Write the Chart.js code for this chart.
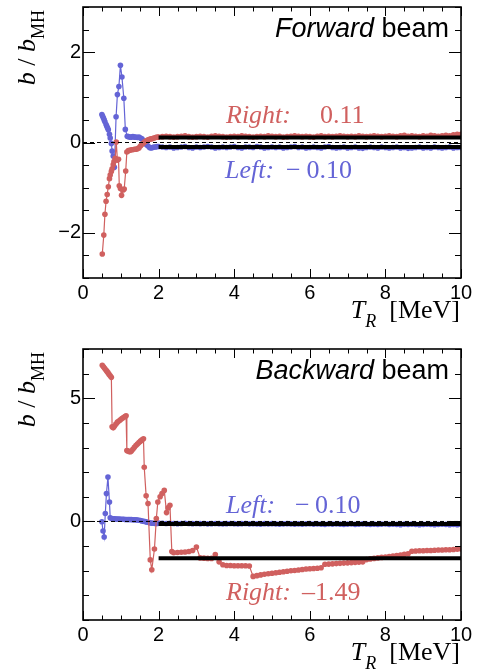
<!DOCTYPE html>
<html>
<head>
<meta charset="utf-8">
<script src="https://cdn.jsdelivr.net/npm/chart.js@4.4.0/dist/chart.umd.min.js"></script>
<style>
  html, body { margin: 0; padding: 0; background: #fff; }
  #wrap { position: relative; width: 478px; height: 671px; }
  canvas { position: absolute; left: 0; }
  #fwd { top: 0; }
  #bwd { top: 335px; }
</style>
</head>
<body>
<div id="wrap">
  <canvas id="fwd" width="478" height="335"></canvas>
  <canvas id="bwd" width="478" height="336"></canvas>
</div>
<script>
// colours
const RED = '#d0605f';
const BLUE = '#6464d6';
const SANS = '"Liberation Sans", Arial, sans-serif';
const SERIF = '"Liberation Serif", "Times New Roman", serif';

// axis ticks
const xTicks = [0, 2, 4, 6, 8, 10];
const fwdYTicks = [-2, 0, 2];
const bwdYTicks = [0, 5];

// fitted means (black lines, from 2 MeV on)
const fwdMeanRight = 0.11;
const fwdMeanLeft = -0.10;
const bwdMeanLeft = -0.10;
const bwdMeanRight = -1.49;
const meanStart = 2.0;

// common energy grid above 2 MeV
const tailE = [
  2.0, 2.1, 2.2, 2.3, 2.4, 2.5, 2.6, 2.7, 2.8, 2.9,
  3.0, 3.1, 3.2, 3.3, 3.4, 3.5, 3.6, 3.7, 3.8, 3.9,
  4.0, 4.1, 4.2, 4.3, 4.4, 4.5, 4.6, 4.7, 4.8, 4.9,
  5.0, 5.1, 5.2, 5.3, 5.4, 5.5, 5.6, 5.7, 5.8, 5.9,
  6.0, 6.1, 6.2, 6.3, 6.4, 6.5, 6.6, 6.7, 6.8, 6.9,
  7.0, 7.1, 7.2, 7.3, 7.4, 7.5, 7.6, 7.7, 7.8, 7.9,
  8.0, 8.1, 8.2, 8.3, 8.4, 8.5, 8.6, 8.7, 8.8, 8.9,
  9.0, 9.1, 9.2, 9.3, 9.4, 9.5, 9.6, 9.7, 9.8, 9.9,
  10.0
];

// ---- forward beam ----
const fwdLeftE = [0.50, 0.52, 0.54, 0.56, 0.58, 0.61, 0.63, 0.65, 0.67, 0.70, 0.72, 0.75, 0.77, 0.80, 0.83,
  0.875, 0.91, 0.95, 0.99, 1.03, 1.08, 1.12, 1.17, 1.20, 1.24, 1.28, 1.32, 1.36, 1.40, 1.44, 1.48,
  1.52, 1.56, 1.60, 1.64, 1.68, 1.72, 1.76, 1.80, 1.84, 1.88, 1.92, 1.96];
const fwdLeftB = [0.62, 0.58, 0.54, 0.50, 0.46, 0.40, 0.36, 0.32, 0.28, 0.18, 0.10, -0.02, -0.19, -0.30, -0.55,
  0.57, 1.06, 1.24, 1.71, 1.45, 0.98, 0.29, 0.14, 0.13, 0.12, 0.12, 0.13, 0.12, 0.12, 0.11, 0.12,
  0.10, 0.08, 0.04, 0.00, -0.05, -0.08, -0.11, -0.12, -0.11, -0.10, -0.10, -0.09];
const fwdLeftTail = [
  -0.09, -0.10, -0.11, -0.10, -0.12, -0.11, -0.10, -0.09, -0.11, -0.12,
  -0.10, -0.11, -0.10, -0.09, -0.10, -0.12, -0.11, -0.10, -0.11, -0.10,
  -0.09, -0.11, -0.12, -0.10, -0.10, -0.11, -0.09, -0.10, -0.12, -0.11,
  -0.10, -0.11, -0.10, -0.12, -0.11, -0.10, -0.09, -0.11, -0.10, -0.12,
  -0.11, -0.10, -0.11, -0.12, -0.10, -0.09, -0.11, -0.12, -0.11, -0.10,
  -0.12, -0.11, -0.10, -0.12, -0.13, -0.11, -0.10, -0.11, -0.12, -0.10,
  -0.11, -0.12, -0.11, -0.10, -0.12, -0.11, -0.13, -0.12, -0.11, -0.10,
  -0.12, -0.11, -0.12, -0.10, -0.11, -0.12, -0.11, -0.10, -0.12, -0.11,
  -0.11
];

const fwdRightE = [0.51, 0.55, 0.58, 0.61, 0.64, 0.67, 0.70, 0.72, 0.75, 0.77, 0.80, 0.82, 0.85, 0.88,
  0.91, 0.94, 0.96, 0.99, 1.02, 1.06, 1.09, 1.13, 1.16, 1.20, 1.24, 1.28, 1.32, 1.36, 1.40, 1.44,
  1.48, 1.52, 1.56, 1.60, 1.64, 1.68, 1.72, 1.76, 1.80, 1.84, 1.88, 1.92, 1.96];
const fwdRightB = [-2.47, -2.05, -1.59, -1.30, -1.15, -0.98, -0.80, -0.72, -0.64, -0.58, -0.49, -0.42, -0.35, 0.01,
  -0.39, -0.37, -0.96, -1.02, -1.17, -1.05, -1.03, -0.63, -0.21, -0.18, -0.17, -0.16, -0.16, -0.15, -0.15, -0.14,
  -0.12, -0.08, -0.04, -0.01, 0.02, 0.04, 0.06, 0.07, 0.08, 0.09, 0.10, 0.11, 0.12];
const fwdRightTail = [
  0.12, 0.13, 0.14, 0.13, 0.12, 0.13, 0.14, 0.15, 0.13, 0.12,
  0.13, 0.14, 0.13, 0.12, 0.14, 0.15, 0.14, 0.13, 0.12, 0.13,
  0.14, 0.13, 0.15, 0.14, 0.13, 0.12, 0.13, 0.14, 0.13, 0.15,
  0.14, 0.13, 0.14, 0.12, 0.13, 0.14, 0.15, 0.14, 0.13, 0.14,
  0.13, 0.12, 0.14, 0.15, 0.13, 0.14, 0.13, 0.14, 0.15, 0.14,
  0.13, 0.14, 0.13, 0.15, 0.14, 0.13, 0.14, 0.15, 0.14, 0.13,
  0.14, 0.15, 0.14, 0.13, 0.15, 0.16, 0.14, 0.15, 0.14, 0.13,
  0.15, 0.14, 0.16, 0.15, 0.14, 0.15, 0.16, 0.15, 0.17, 0.18,
  0.18
];

// ---- backward beam ----
const bwdLeftE = [0.50, 0.53, 0.56, 0.59, 0.62, 0.66, 0.70, 0.72, 0.76, 0.80, 0.84, 0.88, 0.92, 0.96,
  1.00, 1.04, 1.08, 1.12, 1.16, 1.20, 1.24, 1.28, 1.32, 1.36, 1.40, 1.44, 1.48, 1.52, 1.56, 1.60,
  1.64, 1.68, 1.72, 1.76, 1.80, 1.84, 1.88, 1.92, 1.96];
const bwdLeftB = [-0.01, -0.39, -0.63, 0.32, 1.13, 1.80, 0.79, 0.15, 0.12, 0.11, 0.11, 0.10, 0.10, 0.10,
  0.09, 0.09, 0.09, 0.08, 0.08, 0.08, 0.08, 0.08, 0.07, 0.07, 0.07, 0.06, 0.05, 0.04, 0.02, 0.01,
  0.00, -0.02, -0.03, -0.05, -0.06, -0.07, -0.07, -0.08, -0.08];
const bwdLeftTail = [
  -0.06, -0.07, -0.08, -0.07, -0.08, -0.09, -0.08, -0.07, -0.08, -0.09,
  -0.08, -0.09, -0.08, -0.10, -0.09, -0.08, -0.09, -0.10, -0.09, -0.08,
  -0.09, -0.10, -0.09, -0.08, -0.10, -0.09, -0.10, -0.11, -0.09, -0.10,
  -0.09, -0.10, -0.11, -0.10, -0.09, -0.10, -0.11, -0.10, -0.11, -0.10,
  -0.09, -0.11, -0.10, -0.11, -0.12, -0.10, -0.11, -0.10, -0.11, -0.12,
  -0.11, -0.10, -0.12, -0.11, -0.10, -0.11, -0.12, -0.11, -0.12, -0.11,
  -0.10, -0.12, -0.11, -0.12, -0.13, -0.11, -0.12, -0.11, -0.12, -0.13,
  -0.12, -0.11, -0.12, -0.13, -0.12, -0.11, -0.12, -0.13, -0.12, -0.13,
  -0.12
];

const bwdRightE = [0.51, 0.54, 0.57, 0.60, 0.63, 0.66, 0.69, 0.72, 0.75,
  0.77, 0.80, 0.83, 0.87, 0.91, 0.95, 0.99, 1.03, 1.07, 1.11, 1.14,
  1.16, 1.19, 1.22, 1.25, 1.28, 1.32, 1.36, 1.40, 1.44, 1.48, 1.52, 1.56, 1.60,
  1.62, 1.67, 1.72, 1.78, 1.82, 1.89, 1.94, 1.98, 2.04, 2.09, 2.15, 2.21, 2.25, 2.30, 2.35];
const bwdRightB = [6.34, 6.28, 6.22, 6.16, 6.10, 6.04, 5.97, 5.91, 5.85,
  3.84, 3.80, 3.86, 3.95, 4.03, 4.08, 4.13, 4.18, 4.22, 4.26, 4.29,
  2.88, 2.86, 2.84, 2.83, 2.86, 2.93, 3.01, 3.08, 3.14, 3.20, 3.26, 3.31, 3.36,
  2.20, 1.04, 0.73, -1.56, -1.96, -1.12, 0.12, 0.79, 1.00, 1.13, 1.26, 0.36, 0.55, 0.66, -1.22];
// from 2.4 MeV on (tailE.slice(4))
const bwdRightTail = [
  -1.27, -1.26, -1.25, -1.24, -1.22, -1.18,
  -1.04, -1.48, -1.49, -1.50, -1.50, -1.34, -1.64, -1.76, -1.79, -1.79,
  -1.80, -1.80, -1.80, -1.80, -1.81, -2.23, -2.20, -2.17, -2.14, -2.12,
  -2.10, -2.08, -2.06, -2.04, -2.02, -2.00, -1.99, -1.97, -1.95, -1.93,
  -1.92, -1.91, -1.90, -1.88, -1.74, -1.73, -1.72, -1.71, -1.70, -1.69,
  -1.68, -1.67, -1.66, -1.65, -1.64, -1.55, -1.52, -1.50, -1.48, -1.46,
  -1.44, -1.42, -1.40, -1.38, -1.36, -1.33, -1.31, -1.21, -1.20, -1.19,
  -1.19, -1.18, -1.18, -1.17, -1.16, -1.16, -1.15, -1.15, -1.14, -1.13,
  -1.12
];

function pts(xs, ys) {
  return xs.map((x, i) => ({ x: x, y: ys[i] }));
}

function drawParts(ctx, parts, x, y, align) {
  let total = 0;
  parts.forEach(p => { ctx.font = p.font; p.w = ctx.measureText(p.text).width; total += p.w; });
  let cx = align === 'right' ? x - total : x;
  parts.forEach(p => {
    ctx.font = p.font;
    ctx.fillStyle = p.color || '#000';
    ctx.fillText(p.text, cx, y + (p.dy || 0));
    cx += p.w;
  });
}

// frame + inner ticks on all four sides (ROOT style)
const frameTicks = {
  id: 'frameTicks',
  afterDraw(chart, args, opts) {
    const ctx = chart.ctx;
    const a = chart.chartArea;
    const xs = chart.scales.x, ys = chart.scales.y;
    ctx.save();
    ctx.strokeStyle = '#000';
    ctx.lineWidth = 1;
    ctx.beginPath();
    const nx = Math.round((xs.max - xs.min) / opts.xMinor);
    for (let i = 0; i <= nx; i++) {
      const v = xs.min + i * opts.xMinor;
      const px = Math.round(xs.getPixelForValue(v)) + 0.5;
      const len = (i % opts.xEvery === 0) ? 9 : 4.5;
      ctx.moveTo(px, a.bottom); ctx.lineTo(px, a.bottom - len);
      ctx.moveTo(px, a.top); ctx.lineTo(px, a.top + len);
    }
    const ny = Math.round((ys.max - ys.min) / opts.yMinor);
    for (let i = 0; i <= ny; i++) {
      const v = ys.min + i * opts.yMinor;
      const py = Math.round(ys.getPixelForValue(v)) + 0.5;
      const major = Math.abs(v / opts.yMajor - Math.round(v / opts.yMajor)) < 1e-6;
      const len = major ? 12 : 6;
      ctx.moveTo(a.left, py); ctx.lineTo(a.left + len, py);
      ctx.moveTo(a.right, py); ctx.lineTo(a.right - len, py);
    }
    ctx.stroke();
    ctx.lineWidth = 1.6;
    ctx.strokeRect(a.left, a.top, a.right - a.left, a.bottom - a.top);
    ctx.restore();
  }
};

// titles and annotations
const texts = {
  id: 'texts',
  afterDraw(chart, args, opts) {
    const ctx = chart.ctx;
    const a = chart.chartArea;
    ctx.save();
    ctx.textAlign = 'left';
    ctx.textBaseline = 'alphabetic';
    // beam label
    drawParts(ctx, [
      { text: opts.beam, font: 'italic 27px ' + SANS },
      { text: ' beam', font: '27px ' + SANS }
    ], a.right - 12, a.top + 30, 'right');
    // x title
    drawParts(ctx, [
      { text: 'T', font: 'italic 26px ' + SERIF },
      { text: 'R', font: 'italic 18px ' + SERIF, dy: 9 },
      { text: '  [MeV]', font: '26px ' + SERIF }
    ], a.right - 1, a.bottom + 40, 'right');
    // y title, rotated
    ctx.save();
    ctx.translate(34.5, a.top + 3);
    ctx.rotate(-Math.PI / 2);
    drawParts(ctx, [
      { text: 'b', font: 'italic 26px ' + SERIF },
      { text: ' / ', font: '26px ' + SERIF },
      { text: 'b', font: 'italic 26px ' + SERIF },
      { text: 'MH', font: '18px ' + SERIF, dy: 9.5 }
    ], 0, 0, 'right');
    ctx.restore();
    // mean annotations
    opts.notes.forEach(n => {
      drawParts(ctx, [{ text: n.label, font: 'italic 26px ' + SERIF, color: n.color }], a.left + n.dx, a.top + n.dy);
      n.rest.forEach(r => {
        drawParts(ctx, [{ text: r.text, font: '26px ' + SERIF, color: n.color }], a.left + r.dx, a.top + n.dy);
      });
    });
    ctx.restore();
  }
};

function meanLine(m) {
  return {
    data: [{ x: meanStart, y: m }, { x: 10, y: m }],
    showLine: true, borderColor: '#000', borderWidth: 4, pointRadius: 0
  };
}
function zeroLine() {
  return {
    data: [{ x: 0, y: 0 }, { x: 10, y: 0 }],
    showLine: true, borderColor: '#000', borderWidth: 1, borderDash: [4, 3], pointRadius: 0
  };
}
function series(data, color) {
  return {
    data: data, showLine: true, borderColor: color, borderWidth: 1.2,
    pointRadius: 2.8, pointBackgroundColor: color, pointBorderWidth: 0, pointHoverRadius: 0
  };
}

function makeChart(id, c) {
  return new Chart(document.getElementById(id), {
    type: 'scatter',
    data: { datasets: c.datasets },
    options: {
      responsive: false,
      animation: false,
      devicePixelRatio: 1,
      events: [],
      layout: { padding: { left: 0, right: 17, top: c.padTop, bottom: 0 } },
      plugins: {
        legend: { display: false },
        tooltip: { enabled: false },
        frameTicks: c.ticks,
        texts: { beam: c.beam, notes: c.notes }
      },
      scales: {
        x: {
          type: 'linear', min: 0, max: 10,
          grid: { display: false, drawTicks: false }, border: { display: false },
          afterBuildTicks: s => { s.ticks = xTicks.map(v => ({ value: v })); },
          afterFit: s => { s.height = c.xHeight; s.paddingLeft = 0; s.paddingRight = 0; },
          ticks: { font: { family: SANS, size: 20 }, color: '#000', padding: 3, maxRotation: 0, autoSkip: false }
        },
        y: {
          type: 'linear', min: c.yMin, max: c.yMax,
          grid: { display: false, drawTicks: false }, border: { display: false },
          afterBuildTicks: s => { s.ticks = c.yTicks.map(v => ({ value: v })); },
          afterFit: s => { s.width = 83; s.paddingTop = 0; s.paddingBottom = 0; },
          ticks: {
            font: { family: SANS, size: 20 }, color: '#000', padding: 2,
            callback: v => (v < 0 ? '\u2212' + Math.abs(v) : String(v))
          }
        }
      }
    },
    plugins: [frameTicks, texts]
  });
}

makeChart('fwd', {
  padTop: 7, xHeight: 57, yMin: -3, yMax: 3, yTicks: fwdYTicks, beam: 'Forward',
  ticks: { xMinor: 0.5, xEvery: 4, yMinor: 0.5, yMajor: 2 },
  datasets: [
    meanLine(fwdMeanRight), meanLine(fwdMeanLeft), zeroLine(),
    series(pts(fwdRightE, fwdRightB).concat(pts(tailE, fwdRightTail)), RED),
    series(pts(fwdLeftE, fwdLeftB).concat(pts(tailE, fwdLeftTail)), BLUE)
  ],
  notes: [
    { label: 'Right:', color: RED, dx: 143, dy: 116, rest: [{ text: fwdMeanRight.toFixed(2), dx: 237 }] },
    { label: 'Left:', color: BLUE, dx: 142, dy: 171,
      rest: [{ text: '\u2212', dx: 203 }, { text: Math.abs(fwdMeanLeft).toFixed(2), dx: 223.5 }] }
  ]
});

makeChart('bwd', {
  padTop: 14, xHeight: 51, yMin: -4, yMax: 7, yTicks: bwdYTicks, beam: 'Backward',
  ticks: { xMinor: 0.5, xEvery: 4, yMinor: 1, yMajor: 5 },
  datasets: [
    meanLine(bwdMeanRight), meanLine(bwdMeanLeft), zeroLine(),
    series(pts(bwdRightE, bwdRightB).concat(pts(tailE.slice(4), bwdRightTail)), RED),
    series(pts(bwdLeftE, bwdLeftB).concat(pts(tailE, bwdLeftTail)), BLUE)
  ],
  notes: [
    { label: 'Left:', color: BLUE, dx: 143, dy: 164,
      rest: [{ text: '\u2212', dx: 212 }, { text: Math.abs(bwdMeanLeft).toFixed(2), dx: 232 }] },
    { label: 'Right:', color: RED, dx: 143, dy: 251,
      rest: [{ text: '\u2013' + Math.abs(bwdMeanRight).toFixed(2), dx: 219 }] }
  ]
});
</script>
</body>
</html>
